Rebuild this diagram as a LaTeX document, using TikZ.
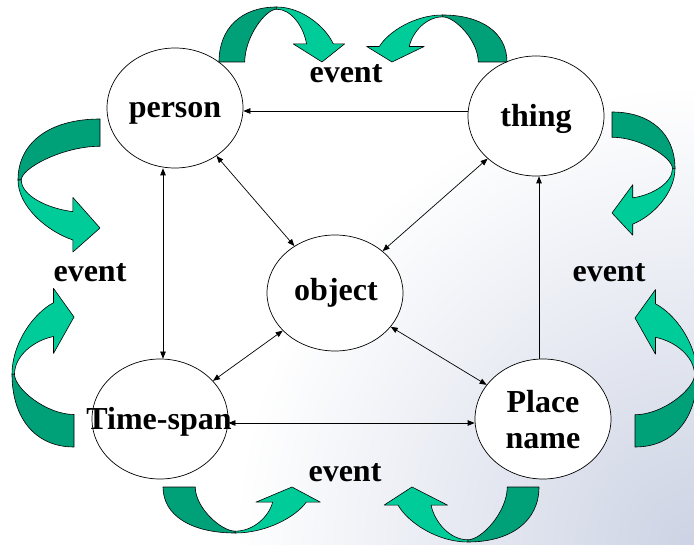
\documentclass[tikz,border=0pt]{standalone}
\usepackage{fontspec}
\setmainfont{Liberation Serif}
\usetikzlibrary{arrows.meta,shapes.geometric}
\definecolor{darkband}{RGB}{0,160,120}
\definecolor{lightband}{RGB}{0,204,153}
\definecolor{bgtint}{RGB}{205,211,228}
\tikzset{
  ell/.style={draw, fill=white, ellipse, inner sep=0pt, line width=0.7pt,
              minimum width=136pt, minimum height=120pt},
  lbl/.style={font=\fontsize{32}{36}\selectfont\bfseries, inner sep=0pt, anchor=base},
  link/.style={line width=0.7pt, -{Triangle[length=7pt,width=5.5pt]}},
  dlink/.style={line width=0.7pt, {Triangle[length=7pt,width=5.5pt]}-{Triangle[length=7pt,width=5.5pt]}},
  band/.style={draw=black, line width=0.6pt, line join=round}
}
\newcommand{\bandshape}{%
  \filldraw[band, fill=darkband] (0,0) .. controls (0,0.62) and (0.22,1) .. (0.56,1)
     -- (0.56,0.96) .. controls (0.45,0.96) and (0.25,0.45) .. (0.25,0) -- cycle;
  \filldraw[band, fill=lightband] (0.56,1) .. controls (0.80,1) and (1.03,0.65) .. (1.11,0.33)
     -- (1.22,0.33) -- (1,0) -- (0.72,0.33) -- (0.85,0.33)
     .. controls (0.82,0.65) and (0.70,0.96) .. (0.56,0.96) -- cycle;}
\begin{document}
\begin{tikzpicture}[x=1pt,y=-1pt]
\useasboundingbox (0,0) rectangle (694,545);
\begin{scope}
  \clip (0,0) rectangle (694,545);
  \fill[white] (0,0) rectangle (694,545);
  \shade[inner color=bgtint, outer color=white] (694,545) circle (460pt);
\end{scope}

% ellipses
\node[ell] (p) at (175,108) {};
\node[ell] (t) at (536,116) {};
\node[ell, minimum height=116pt] (o) at (335,293) {};
\node[ell] (ts) at (160,419) {};
\node[ell] (pn) at (543,419) {};

% labels
\node[lbl] (pl) at (175,118) {person};
\node[lbl] (tl) at (536,127) {thing};
\node[lbl] (ol) at (336,301) {object};
\node[lbl] (tsl) at (159,430) {Time-span};
\node[font=\fontsize{32}{36}\selectfont\bfseries, inner sep=0pt, align=center] (pnl) at (543,420) {Place\\name};
\node[lbl] (e1) at (346,83) {event};
\node[lbl] (e2) at (90,282) {event};
\node[lbl] (e3) at (609,282) {event};
\node[lbl] (e4) at (345,482) {event};

% connectors
\draw[link] (t.west |- 0,111) -- (p.east |- 0,111);
\draw[link] (pn.north -| 539,0) -- (t.south -| 539,0);
\draw[dlink] (p.south -| 163,0) -- (ts.north -| 163,0);
\draw[dlink] (ts.east |- 0,423) -- (pn.west |- 0,423);
\draw[dlink] (p) -- (o);
\draw[dlink] (t) -- (o);
\draw[dlink] (o) -- (ts);
\draw[dlink] (o) -- (pn);

% curved arrows
\begin{scope}[shift={(219,62)}, x={(103pt,0pt)}, y={(0pt,55pt)}]\bandshape\end{scope}
\begin{scope}[shift={(507,62)}, x={(-115pt,0pt)}, y={(0pt,47pt)}]\bandshape\end{scope}
\begin{scope}[shift={(100,119)}, x={(0pt,-109pt)}, y={(-82pt,0pt)}]\bandshape\end{scope}
\begin{scope}[shift={(612,112)}, x={(0pt,-101pt)}, y={(63pt,0pt)}]\bandshape\end{scope}
\begin{scope}[shift={(74,447)}, x={(0pt,130pt)}, y={(-62pt,0pt)}]\bandshape\end{scope}
\begin{scope}[shift={(635,447)}, x={(0pt,129pt)}, y={(62pt,0pt)}]\bandshape\end{scope}
\begin{scope}[shift={(163,487)}, x={(129pt,0pt)}, y={(0pt,-46pt)}]\bandshape\end{scope}
\begin{scope}[shift={(539,487)}, x={(-127pt,0pt)}, y={(0pt,-55pt)}]\bandshape\end{scope}
\end{tikzpicture}
\end{document}
